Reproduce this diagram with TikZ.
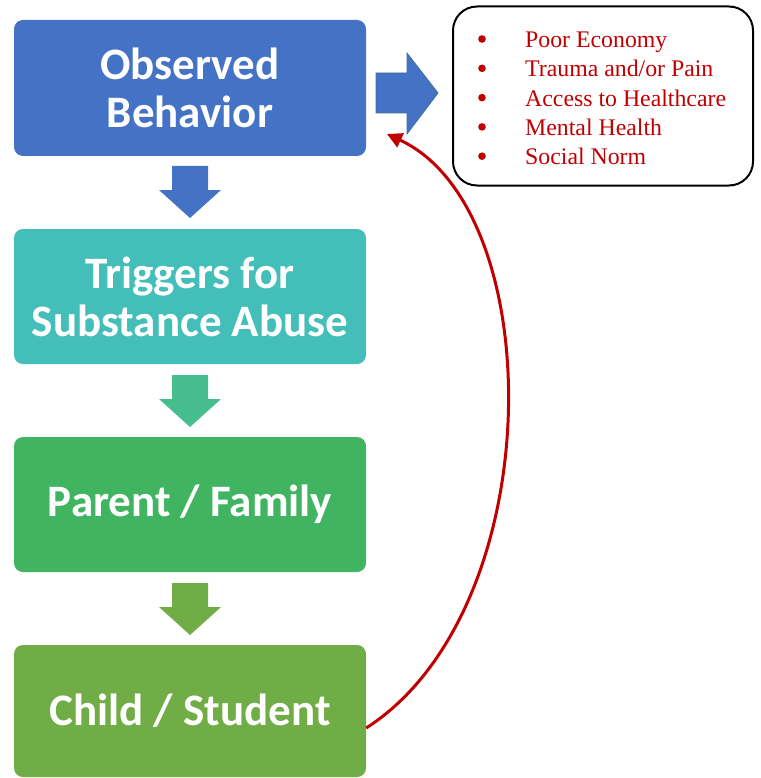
\documentclass[tikz,border=0pt]{standalone}
\usepackage{fontspec}
\setmainfont{Liberation Serif}
\newfontfamily\carlfont{Carlito}
\usetikzlibrary{arrows.meta,calc}
\definecolor{cblue}{HTML}{4472C4}
\definecolor{cblueb}{HTML}{41719C}
\definecolor{cteal}{HTML}{43BEB8}
\definecolor{cmint}{HTML}{45BD8C}
\definecolor{cgreen}{HTML}{41B462}
\definecolor{colive}{HTML}{70AD47}
\definecolor{cred}{HTML}{C00000}
\tikzset{
  stagebox/.style={rounded corners=9pt, minimum width=352pt, inner sep=0pt,
    text=white, align=center, font=\carlfont\bfseries\fontsize{45}{48}\selectfont},
  listline/.style={anchor=base west, inner sep=0pt, text=cred, font=\fontsize{23.8}{28}\selectfont},
}
\begin{document}
\begin{tikzpicture}[x=1pt,y=-1pt]
\useasboundingbox (0,0) rectangle (760,778);
% stage boxes
\node[stagebox, fill=cblue, minimum height=136pt] (obs) at (190,88) {Observed\\Behavior};
\node[stagebox, fill=cteal, minimum height=135pt] (trig) at (190,296.5) {Triggers for\\Substance Abuse};
\node[stagebox, fill=cgreen, minimum height=135pt] (par) at (190,504.5) {Parent / Family};
\node[stagebox, fill=colive, minimum height=132pt] (child) at (190,711) {Child / Student};
% down arrows
\foreach \y/\c in {166/cblue, 375/cmint, 583/colive}{
  \fill[\c] (172,\y) -- (208,\y) -- (208,\y+24) -- (221,\y+24) -- (190,\y+52)
     -- (159,\y+24) -- (172,\y+24) -- cycle;
}
% right arrow
\filldraw[fill=cblue, draw=cblueb, line width=0.8pt]
  (376,73) -- (407,73) -- (407,53) -- (438,93) -- (407,134) -- (407,113) -- (376,113) -- cycle;
% list box
\node[draw=black, line width=2pt, rounded corners=24pt, minimum width=300pt, minimum height=179pt]
  (list) at (603,96) {};
\foreach \t [count=\i] in {Poor Economy, Trauma and/or Pain, Access to Healthcare, Mental Health, Social Norm}{
  \fill[cred] (482,{39+(\i-1)*29.3}) circle (3.8);
  \node[listline] at (525,{47.5+(\i-1)*29.3}) {\t};
}
% feedback curve
\coordinate (fbstart) at ($(child.east)+(0,17)$);
\coordinate (fbend) at (387,134);
\draw[cred, line width=3pt, -{Triangle[length=15pt,width=15pt]}]
  (fbstart) .. controls (550,610) and (550,210) .. (fbend);
\end{tikzpicture}
\end{document}
